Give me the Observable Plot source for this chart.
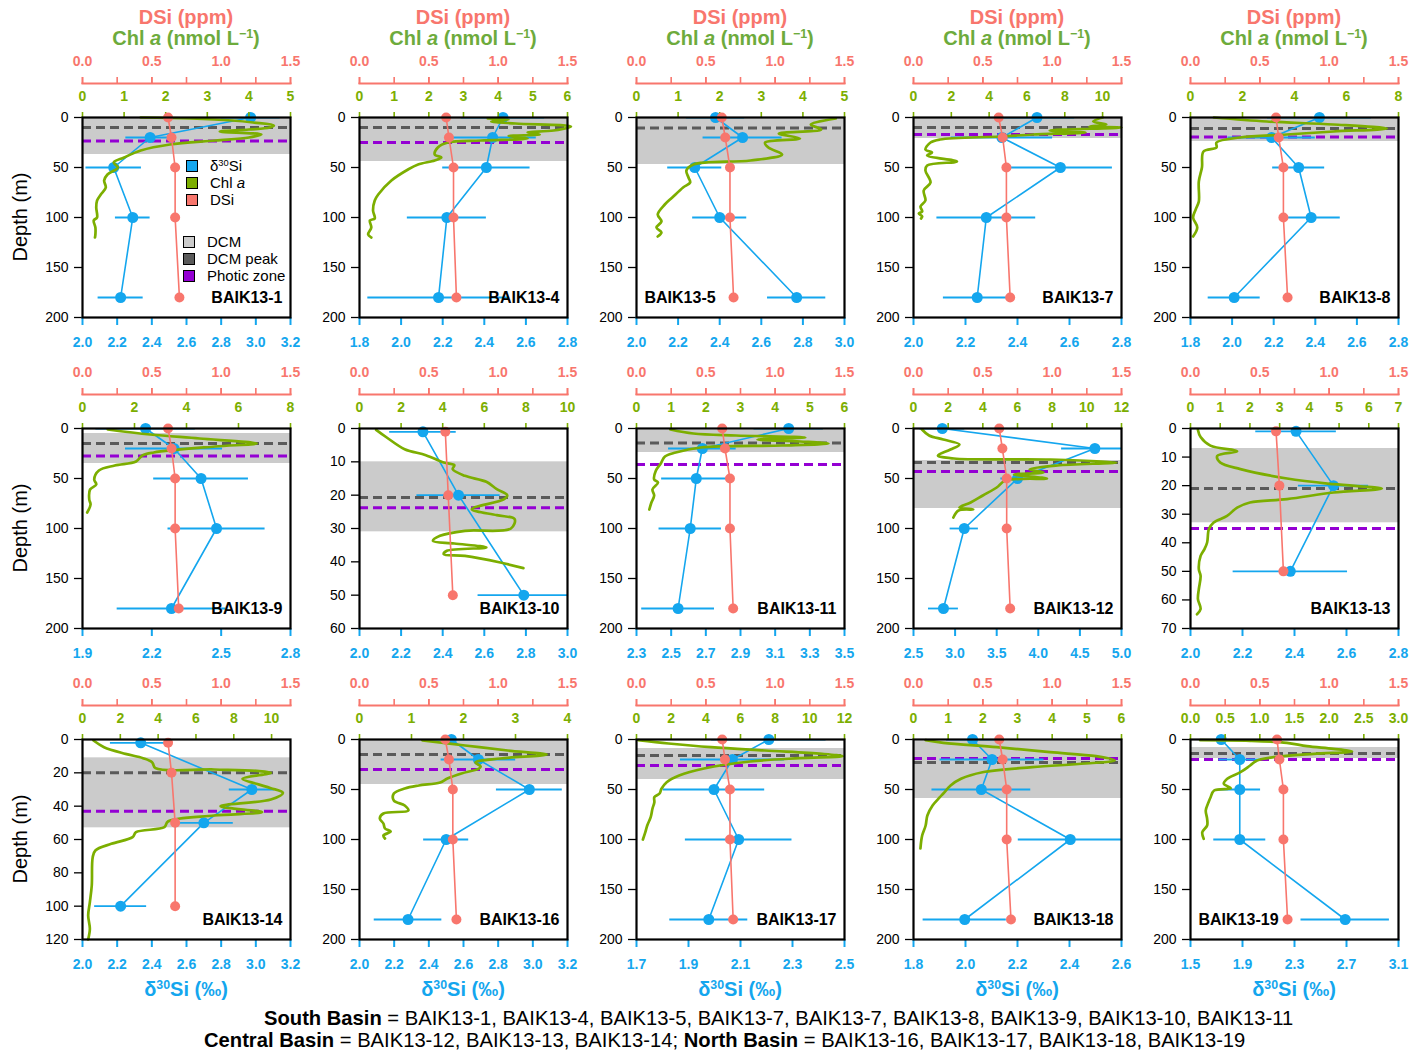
<!DOCTYPE html>
<html>
<head>
<meta charset="utf-8">
<script src="https://cdn.jsdelivr.net/npm/d3@7"></script>
<script src="https://cdn.jsdelivr.net/npm/@observablehq/plot@0.6"></script>
<style>
  body { margin: 0; background: #fff; font-family: "Liberation Sans", Arimo, Arial, sans-serif; }
  #wrap { position: relative; width: 1419px; height: 1051px; overflow: hidden; background: #fff; }
  .abs { position: absolute; white-space: nowrap; }
  .layer { position: absolute; }
  sup { font-size: 62%; vertical-align: 0; position: relative; top: -0.55em; }
</style>
</head>
<body>
<div id="wrap"></div>
<script>
// ---------------- DATA ----------------
const stations = ["BAIK13-1","BAIK13-4","BAIK13-5","BAIK13-7","BAIK13-8",
                  "BAIK13-9","BAIK13-10","BAIK13-11","BAIK13-12","BAIK13-13",
                  "BAIK13-14","BAIK13-16","BAIK13-17","BAIK13-18","BAIK13-19"];

// δ30Si axis domains and tick labels (bottom, blue)
const d30Domains = [[2.0,3.2],[1.8,2.8],[2.0,3.0],[2.0,2.8],[1.8,2.8],
                    [1.9,2.8],[2.0,3.0],[2.3,3.5],[2.5,5.0],[2.0,2.8],
                    [2.0,3.2],[2.0,3.2],[1.7,2.5],[1.8,2.6],[1.5,3.1]];
const d30Ticks = [
  [2.0,2.2,2.4,2.6,2.8,3.0,3.2],[1.8,2.0,2.2,2.4,2.6,2.8],[2.0,2.2,2.4,2.6,2.8,3.0],[2.0,2.2,2.4,2.6,2.8],[1.8,2.0,2.2,2.4,2.6,2.8],
  [1.9,2.2,2.5,2.8],[2.0,2.2,2.4,2.6,2.8,3.0],[2.3,2.5,2.7,2.9,3.1,3.3,3.5],[2.5,3.0,3.5,4.0,4.5,5.0],[2.0,2.2,2.4,2.6,2.8],
  [2.0,2.2,2.4,2.6,2.8,3.0,3.2],[2.0,2.2,2.4,2.6,2.8,3.0,3.2],[1.7,1.9,2.1,2.3,2.5],[1.8,2.0,2.2,2.4,2.6],[1.5,1.9,2.3,2.7,3.1]
];

// Chl a axis domains and tick labels (top, green)
const chlDomains = [[0,5],[0,6],[0,5],[0,11],[0,8],
                    [0,8],[0,10],[0,6],[0,12],[0,7],
                    [0,11],[0,4],[0,12],[0,6],[0,3]];
const chlTicks = [
  [0,1,2,3,4,5],[0,1,2,3,4,5,6],[0,1,2,3,4,5],[0,2,4,6,8,10],[0,2,4,6,8],
  [0,2,4,6,8],[0,2,4,6,8,10],[0,1,2,3,4,5,6],[0,2,4,6,8,10,12],[0,1,2,3,4,5,6,7],
  [0,2,4,6,8,10],[0,1,2,3,4],[0,2,4,6,8,10,12],[0,1,2,3,4,5,6],[0,0.5,1.0,1.5,2.0,2.5,3.0]
];

// DSi axis (top, red)
const dsiDomain = [0, 1.5];
const dsiTicks = [0.0, 0.5, 1.0, 1.5];
const dsiMinorTicks = [0, 0.25, 0.5, 0.75, 1.0, 1.25, 1.5];

// Depth axis
const depthMax = [200,200,200,200,200, 200,60,200,200,70, 120,200,200,200,200];
const depthTicks = [
  [0,50,100,150,200],[0,50,100,150,200],[0,50,100,150,200],[0,50,100,150,200],[0,50,100,150,200],
  [0,50,100,150,200],[0,10,20,30,40,50,60],[0,50,100,150,200],[0,50,100,150,200],[0,10,20,30,40,50,60,70],
  [0,20,40,60,80,100,120],[0,50,100,150,200],[0,50,100,150,200],[0,50,100,150,200],[0,50,100,150,200]
];

// δ30Si samples: [depth m, δ30Si ‰, ± error]
const d30Samples = [
  [[0,2.97,0.17],[20,2.39,0.14],[50,2.18,0.16],[100,2.29,0.10],[180,2.22,0.13]],
  [[0,2.49,0.20],[20,2.44,0.21],[50,2.41,0.21],[100,2.22,0.19],[180,2.18,0.34]],
  [[0,2.38,0.14],[20,2.51,0.19],[50,2.28,0.13],[100,2.40,0.13],[180,2.77,0.14]],
  [[0,2.475,0.145],[20,2.34,0.195],[50,2.565,0.20],[100,2.28,0.19],[180,2.245,0.13]],
  [[0,2.42,0.25],[20,2.19,0.21],[50,2.32,0.125],[100,2.38,0.14],[180,2.01,0.125]],
  [[0,2.173,0.215],[20,2.296,0.21],[50,2.413,0.205],[100,2.48,0.21],[180,2.285,0.235]],
  [[1,2.305,0.16],[20,2.476,0.20],[50,2.79,0.22]],
  [[0,3.178,0.20],[20,2.68,0.195],[50,2.645,0.20],[100,2.61,0.18],[180,2.54,0.21]],
  [[0,2.846,0.27],[20,4.68,0.40],[50,3.75,0.20],[100,3.11,0.17],[180,2.86,0.18]],
  [[1,2.406,0.155],[20,2.55,0.135],[50,2.384,0.22]],
  [[2,2.336,0.175],[30,2.977,0.13],[50,2.70,0.17],[100,2.22,0.15]],
  [[0,2.53,0.17],[20,2.686,0.215],[50,2.98,0.19],[100,2.50,0.13],[180,2.28,0.195]],
  [[0,2.209,0.22],[20,2.069,0.20],[50,1.998,0.195],[100,2.093,0.205],[180,1.978,0.15]],
  [[0,2.027,0.10],[20,2.102,0.20],[50,2.061,0.19],[100,2.403,0.20],[180,1.997,0.16]],
  [[0,1.736,0.145],[20,1.879,0.16],[50,1.879,0.16],[100,1.879,0.20],[180,2.69,0.34]]
];

// DSi samples: [depth m, DSi ppm]
const dsiSamples = [
  [[0,0.617],[20,0.642],[50,0.668],[100,0.668],[180,0.699]],
  [[0,0.625],[20,0.645],[50,0.678],[100,0.678],[180,0.699]],
  [[0,0.615],[20,0.640],[50,0.674],[100,0.674],[180,0.700]],
  [[0,0.614],[20,0.643],[50,0.670],[100,0.670],[180,0.697]],
  [[0,0.617],[20,0.636],[50,0.670],[100,0.670],[180,0.700]],
  [[0,0.617],[20,0.642],[50,0.668],[100,0.668],[180,0.694]],
  [[1,0.619],[20,0.640],[50,0.673]],
  [[0,0.618],[20,0.638],[50,0.674],[100,0.674],[180,0.697]],
  [[0,0.618],[20,0.641],[50,0.672],[100,0.672],[180,0.697]],
  [[1,0.617],[20,0.641],[50,0.670]],
  [[2,0.617],[20,0.642],[50,0.668],[100,0.668]],
  [[0,0.619],[20,0.645],[50,0.673],[100,0.673],[180,0.699]],
  [[0,0.618],[20,0.638],[50,0.674],[100,0.674],[180,0.697]],
  [[0,0.618],[20,0.643],[50,0.672],[100,0.672],[180,0.703]],
  [[0,0.624],[20,0.641],[50,0.670],[100,0.670],[180,0.700]]
];

// Chl a profiles: [depth m, Chl a nmol/L]
const chlProfiles = [
  [[0,1.4],[1,2.6],[3,3.6],[5,4.1],[8,4.6],[10,4.5],[12,4.0],[14,3.3],[17,4.3],[20,4.0],[23,3.2],[27,2.1],[33,1.4],[40,1.0],[45,0.75],[50,0.85],[57,0.6],[63,0.52],[70,0.56],[77,0.44],[83,0.35],[90,0.33],[100,0.35],[103,0.27],[110,0.31],[117,0.31],[120,0.3]],
  [[1,3.7],[2,4.3],[4,3.8],[6,4.5],[9,6.1],[13,5.6],[15,4.85],[17,5.2],[18.5,4.3],[21,4.85],[23,3.5],[25,2.55],[30,2.26],[37,2.17],[40,2.36],[43,2.17],[47,1.69],[52,1.4],[63,0.92],[77,0.54],[83,0.44],[93,0.39],[101,0.44],[103,0.30],[110,0.34],[117,0.25],[120,0.34]],
  [[1,4.79],[7,4.19],[12,4.44],[16,3.42],[21,3.93],[25,3.09],[30,3.17],[37,3.5],[43,2.74],[47,1.37],[53,1.2],[60,1.25],[65,1.29],[70,1.12],[80,0.86],[87,0.68],[97,0.51],[104,0.6],[110,0.48],[115,0.6],[119,0.51]],
  [[0,10.0],[4,9.5],[7,10.2],[9,9.3],[10,11.0],[13,7.2],[15,9.1],[17,6.3],[19,4.6],[22,1.4],[25,0.9],[32,0.63],[35,0.98],[38,0.72],[44,2.3],[48,0.72],[53,0.63],[65,0.9],[73,0.54],[83,0.63],[89,0.37],[94,0.46],[96,0.28],[99,0.46],[101,0.4]],
  [[0,0.9],[4,2.94],[7,5.5],[11,7.55],[14,5.5],[17,3.7],[20,1.9],[25,1.0],[30,1.0],[34,0.5],[50,0.44],[64,0.32],[84,0.32],[92,0.2],[100,0.1],[110,0.26],[119,0.1]],
  [[1,0.97],[6,2.6],[10,4.5],[15,6.7],[18,5.1],[24,2.74],[27,2.3],[33,2.06],[37,1.24],[42,0.63],[51,0.45],[56,0.53],[61,0.29],[71,0.26],[76,0.31],[84,0.18]],
  [[0.4,0.8],[2.7,1.31],[6.2,2.17],[8,3.19],[10.2,4.05],[11,4.56],[12.2,4.48],[14.2,5.07],[16,6.1],[18.2,6.6],[20,7.1],[21.2,6.95],[24.2,5.4],[26,6.6],[27.2,7.46],[30,7.28],[30.7,5.07],[32.2,3.87],[33.7,3.53],[34.5,4.56],[35.7,6.1],[36.7,4.2],[37.7,4.05],[38.2,5.07],[40.2,6.77],[41.9,7.88]],
  [[1,0.98],[5,1.64],[7,2.87],[9,4.87],[11,3.49],[13,4.72],[15,5.54],[17,4.2],[19,1.85],[24,1.13],[28,0.82],[35,0.7],[42,0.56],[51,0.51],[54,0.62],[61,0.46],[67,0.51],[74,0.43],[81,0.37]],
  [[1,0.49],[7,0.9],[11,1.72],[16,2.65],[21,2.13],[27,1.41],[30,2.33],[31,7.9],[34,11.7],[37,8.3],[41,6.7],[44,7.5],[46,5.8],[50,7.7],[52,5.3],[59,4.8],[67,4.0],[74,3.3],[79,2.65],[81,3.45],[82,2.6],[89,2.3]],
  [[0.5,0.25],[3,0.34],[6,0.67],[8,1.57],[9.6,0.9],[11.9,1.0],[14.2,1.68],[17.5,3.25],[19.5,4.82],[21,6.44],[22.4,4.82],[24.7,3.25],[25.9,2.0],[27.7,1.57],[30.6,1.23],[32.9,0.78],[35.2,0.62],[39.9,0.56],[42.2,0.47],[44.6,0.34],[49.2,0.28],[51.6,0.34],[56.2,0.28],[59.7,0.25],[63.2,0.34],[65,0.22]],
  [[0.6,0.58],[4.6,1.14],[8.6,2.27],[11.2,3.2],[13.6,3.68],[17.2,3.86],[18,6.96],[18.8,9.2],[20,9.96],[23.6,8.46],[26.6,9.2],[29.2,9.96],[32,10.6],[36,9.96],[40,7.3],[43.6,9.5],[45.6,6.96],[49.2,4.52],[52.6,4.33],[55.6,2.83],[58.6,2.65],[62.6,1.52],[66.6,0.68],[70.6,0.54],[87.6,0.49],[97.6,0.39],[105.6,0.3],[113.6,0.39],[120,0.3]],
  [[1,1.21],[6,2.03],[11,2.85],[15,3.6],[19,2.71],[23,2.23],[27,2.33],[29,2.3],[34,1.96],[39,1.69],[43,1.55],[46,1.14],[49,0.87],[54,0.66],[61,0.66],[66,0.87],[71,0.94],[74,0.46],[79,0.39],[84,0.46],[89,0.49],[92,0.6],[96,0.46],[99,0.49]],
  [[0.7,0.1],[4,1.85],[7.7,4.3],[11,7.4],[14.3,10.7],[16.7,11.9],[18.7,9.4],[22,6.56],[29,3.9],[36,2.46],[42.7,1.74],[49.3,1.44],[54,1.33],[57.7,1.03],[62.7,1.03],[69.3,0.92],[77.7,0.82],[86,0.62],[92.7,0.51],[100,0.37]],
  [[0.7,0.35],[3.3,0.86],[7.7,2.4],[12.7,3.94],[16.7,5.27],[21,5.8],[24,4.96],[27.7,3.43],[32.7,1.99],[39.3,1.37],[46,1.07],[54,0.86],[57.7,0.76],[66,0.55],[76,0.4],[86,0.35],[96,0.25],[109,0.2]],
  [[0.7,0.14],[1.3,0.86],[3.3,1.39],[6.7,1.68],[9.3,2.06],[12,2.33],[14.3,1.78],[17.7,1.2],[21,0.96],[26,0.86],[32.7,0.72],[39.3,0.53],[44.3,0.48],[48.7,0.58],[51,0.34],[57.7,0.29],[62.7,0.26],[71,0.22],[79.3,0.24],[86,0.24],[92.7,0.17],[99.3,0.19]]
];

// DCM layer [top, bottom] m, DCM peak depth, photic zone depth
const dcmBands = [[0,37],[0,44],[0,47],[0,21],[0,24],[5,35],[10,31],[2,24],[32,80],[7,33],[11,53],[0,45],[9,40],[2,59],[8,19]];
const dcmPeaks = [10,10,10.5,10,11,15,20.7,14.5,34,21,20,15,16,23,14];
const photicDepths = [23.5,25,null,17,19.5,27.5,23.8,36,43,35,43,30,26,19,20];

const southBasin = ["BAIK13-1","BAIK13-4","BAIK13-5","BAIK13-7","BAIK13-7","BAIK13-8","BAIK13-9","BAIK13-10","BAIK13-11"];
const centralBasin = ["BAIK13-12","BAIK13-13","BAIK13-14"];
const northBasin = ["BAIK13-16","BAIK13-17","BAIK13-18","BAIK13-19"];

// ---------------- LAYOUT / STYLE ----------------
const BLUE = "#14a6ee", GREEN = "#7cae00", RED = "#f8766d", TITLE_GREEN = "#6dab3c";
const FONT = "'Liberation Sans', Arimo, Arial, sans-serif";
const FW = 208, FH = 200, ML = 50, MR = 14, MT = 72, MB = 46;
const colLeft = [82, 359, 636, 913, 1190];
const rowTop = [117, 428, 739];
const labelLeft = new Set(["BAIK13-5", "BAIK13-19"]);
const wrap = document.getElementById("wrap");

function common(i) {
  return {
    width: FW + ML + MR, height: FH + MT + MB,
    marginLeft: ML, marginRight: MR, marginTop: MT, marginBottom: MB,
    style: {background: "transparent", overflow: "visible", fontFamily: FONT, maxWidth: "none"}
  };
}
function place(svg, left, top) {
  const d = document.createElement("div");
  d.className = "layer";
  d.style.left = left + "px";
  d.style.top = top + "px";
  d.appendChild(svg);
  wrap.appendChild(d);
}
function addDiv(html, css) {
  const d = document.createElement("div");
  d.className = "abs";
  d.innerHTML = html;
  d.style.cssText += css;
  wrap.appendChild(d);
  return d;
}
const f1 = d3.format(".1f");

stations.forEach((name, i) => {
  const r = Math.floor(i / 5), c = i % 5;
  const left = colLeft[c] - ML, top = rowTop[r] - MT;
  const yScale = {domain: [0, depthMax[i]], reverse: true};
  const d30 = d30Samples[i].map(([depth, v, e]) => ({depth, v, e}));
  const dsi = dsiSamples[i].map(([depth, v]) => ({depth, v}));
  const chl = chlProfiles[i].map(([depth, v]) => ({depth, v}));
  const chlFmt = chlTicks[i].some(t => !Number.isInteger(t)) ? f1 : d3.format("d");

  // Base: DCM band, reference lines, depth axis, δ30Si axis and δ30Si profile
  const marksA = [
    Plot.rect([dcmBands[i]], {y1: d => d[0], y2: d => d[1], fill: "#cbcbcb"}),
    Plot.ruleY([dcmPeaks[i]], {stroke: "#5a5a5a", strokeWidth: 3, strokeDasharray: "9,5"})
  ];
  if (photicDepths[i] != null)
    marksA.push(Plot.ruleY([photicDepths[i]], {stroke: "#9400d3", strokeWidth: 3, strokeDasharray: "9,5"}));
  marksA.push(
    Plot.axisY({ticks: depthTicks[i], tickSize: 8, tickPadding: 6, fontSize: 14, label: null, color: "black", strokeWidth: 1.3}),
    Plot.axisX({anchor: "bottom", ticks: d30Ticks[i], tickFormat: f1, tickSize: 8, tickPadding: 12, fontSize: 14, fontWeight: "bold", color: BLUE, strokeWidth: 2, label: null}),
    Plot.ruleY(d30, {y: "depth", x1: d => d.v - d.e, x2: d => d.v + d.e, stroke: BLUE, strokeWidth: 1.8, clip: true}),
    Plot.line(d30, {x: "v", y: "depth", stroke: BLUE, strokeWidth: 1.6}),
    Plot.dot(d30, {x: "v", y: "depth", r: 5.5, fill: BLUE})
  );
  place(Plot.plot({...common(i), x: {domain: d30Domains[i]}, y: yScale, marks: marksA}), left, top);

  // Chl a layer
  place(Plot.plot({
    ...common(i),
    x: {domain: chlDomains[i]},
    y: {...yScale, axis: null},
    marks: [
      Plot.axisX({anchor: "top", ticks: chlTicks[i], tickFormat: chlFmt, tickSize: 6, tickPadding: 11, fontSize: 14, fontWeight: "bold", color: GREEN, strokeWidth: 1.6, label: null}),
      Plot.line(chl, {x: "v", y: "depth", stroke: GREEN, strokeWidth: 2.7, curve: "catmull-rom"})
    ]
  }), left, top);

  // DSi layer + frame + station label
  place(Plot.plot({
    ...common(i),
    x: {domain: dsiDomain},
    y: {...yScale, axis: null},
    marks: [
      Plot.frame({anchor: "top", stroke: RED, strokeWidth: 2, dy: -34}),
      Plot.axisX({anchor: "top", ticks: dsiMinorTicks, tickFormat: () => "", tickSize: 7, dy: -34, color: RED, strokeWidth: 1.6, label: null}),
      Plot.axisX({anchor: "top", ticks: dsiTicks, tickFormat: f1, tickSize: 7, tickPadding: 11, dy: -34, fontSize: 14, fontWeight: "bold", color: RED, strokeWidth: 1.6, label: null}),
      Plot.line(dsi, {x: "v", y: "depth", stroke: RED, strokeWidth: 1.6}),
      Plot.dot(dsi, {x: "v", y: "depth", r: 5, fill: RED}),
      Plot.frame({stroke: "black", strokeWidth: 2.2}),
      Plot.text([name], {
        text: d => d,
        frameAnchor: labelLeft.has(name) ? "bottom-left" : "bottom-right",
        textAnchor: labelLeft.has(name) ? "start" : "end",
        dx: labelLeft.has(name) ? 8 : -8, dy: -15,
        fontSize: 16, fontWeight: "bold", fill: "black"
      })
    ]
  }), left, top);

  const cx = colLeft[c] + FW / 2;
  if (r === 0) {
    addDiv("DSi (ppm)", `left:${cx}px;top:6px;transform:translateX(-50%);font-size:20px;font-weight:bold;color:${RED};`);
    addDiv("Chl <i>a</i> (nmol L<sup>−1</sup>)", `left:${cx}px;top:27px;transform:translateX(-50%);font-size:20px;font-weight:bold;color:${TITLE_GREEN};`);
  }
  if (r === 2) {
    addDiv("δ<sup>30</sup>Si (‰)", `left:${cx}px;top:978px;transform:translateX(-50%);font-size:20px;font-weight:bold;color:${BLUE};`);
  }
  if (c === 0) {
    addDiv("Depth (m)", `left:20px;top:${rowTop[r] + FH / 2}px;transform:translate(-50%,-50%) rotate(-90deg);font-size:20px;color:#000;`);
  }
});

// Legend (panel BAIK13-1)
const legendSeries = [["δ<sup>30</sup>Si", BLUE, 166], ["Chl <i>a</i>", GREEN, 183], ["DSi", RED, 200]];
const legendZones = [["DCM", "#cbcbcb", 242], ["DCM peak", "#5a5a5a", 259], ["Photic zone", "#9400d3", 276]];
legendSeries.forEach(([t, col, y]) => {
  addDiv("", `left:186px;top:${y - 6}px;width:10px;height:10px;background:${col};border:1.5px solid #000;`);
  addDiv(t, `left:210px;top:${y - 10}px;font-size:15px;color:#000;line-height:20px;`);
});
legendZones.forEach(([t, col, y]) => {
  addDiv("", `left:183px;top:${y - 6}px;width:10px;height:10px;background:${col};border:1.5px solid #000;`);
  addDiv(t, `left:207px;top:${y - 10}px;font-size:15px;color:#000;line-height:20px;`);
});

// Caption
addDiv(`<b>South Basin</b> = ${southBasin.join(", ")}`, "left:264px;top:1006px;font-size:20.2px;color:#000;line-height:24px;");
addDiv(`<b>Central Basin</b> = ${centralBasin.join(", ")}; <b>North Basin</b> = ${northBasin.join(", ")}`, "left:204px;top:1028px;font-size:20.2px;color:#000;line-height:24px;");
</script>
</body>
</html>
